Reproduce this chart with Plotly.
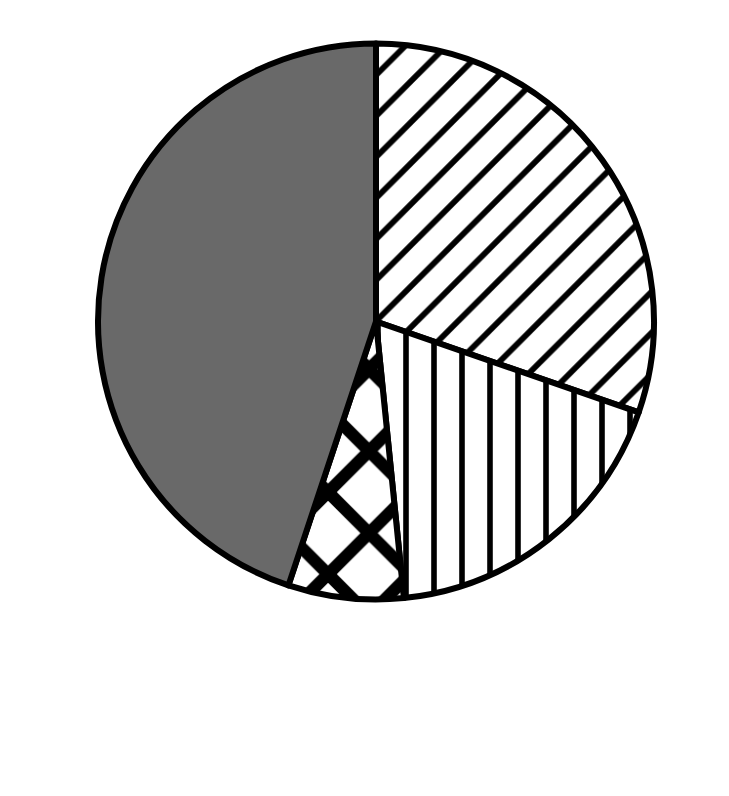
import plotly.graph_objects as go

# Slice data (clockwise from 12 o'clock)
categories = ["Diagonal", "Vertical", "Diamond", "Grey"]
values = [30.3, 18.1, 6.7, 44.9]

# Styles
fill_colors = ["white", "white", "white", "#696969"]
pattern_shapes = ["/", "|", "x", ""]
pattern_sizes = [29, 28, 58, 10]
pattern_solidity = [0.2, 0.2, 0.38, 0.1]

W, H = 729, 796
cx, cy, r = 376, 321.5, 278

fig = go.Figure(
    go.Pie(
        labels=categories,
        values=values,
        sort=False,
        direction="clockwise",
        rotation=0,
        textinfo="none",
        hoverinfo="none",
        showlegend=False,
        marker=dict(
            colors=fill_colors,
            line=dict(color="black", width=6),
            pattern=dict(
                shape=pattern_shapes,
                size=pattern_sizes,
                solidity=pattern_solidity,
                fgcolor="black",
                bgcolor=fill_colors,
                fillmode="replace",
            ),
        ),
        domain=dict(
            x=[(cx - r) / W, (cx + r) / W],
            y=[(H - cy - r) / H, (H - cy + r) / H],
        ),
    )
)

fig.update_layout(
    width=W,
    height=H,
    margin=dict(l=0, r=0, t=0, b=0),
    paper_bgcolor="white",
    plot_bgcolor="white",
    showlegend=False,
)

fig.write_html("out.html")
